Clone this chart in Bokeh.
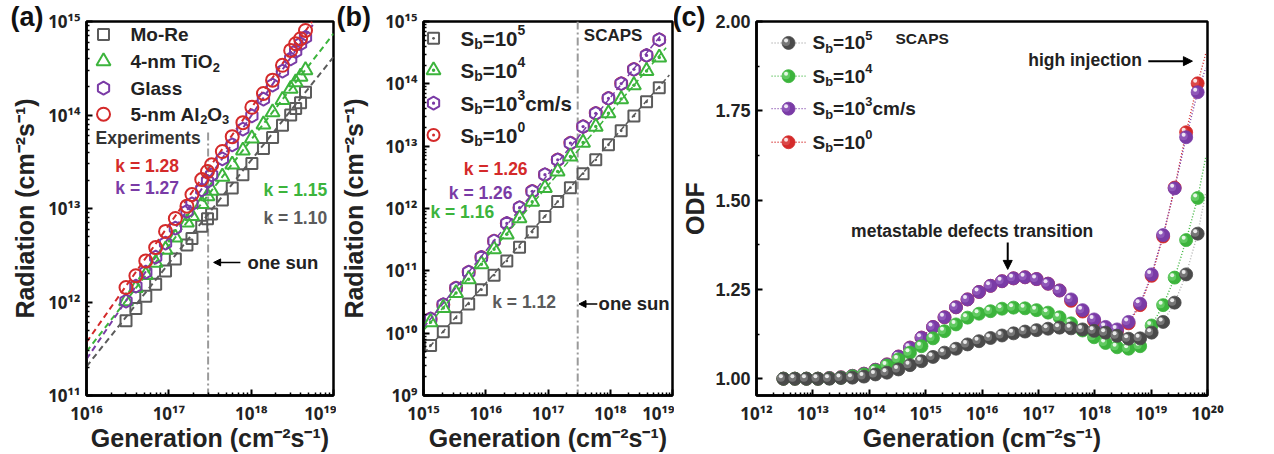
import math
from bokeh.plotting import figure
from bokeh.models import Label, Arrow, NormalHead, FixedTicker, CustomJSTickFormatter, PrintfTickFormatter, Range1d, Title
from bokeh.layouts import row
from bokeh.embed import file_html
from bokeh.resources import INLINE

FONT = "Liberation Sans"
TICKFONT = "Noto Sans"
GRAY, GREEN, PURPLE, RED = "#5b5b5b", "#3cb43c", "#7a3ba6", "#d42a2a"
TXT = "#222222"

# ---------------- panel (a): experiments ----------------
gen_a = [3.02e16, 3.98e16, 5.25e16, 6.92e16, 9.12e16, 1.20e17, 1.66e17, 1.91e17, 2.51e17, 2.95e17, 3.31e17,
         4.47e17, 5.89e17, 7.94e17, 1.02e18, 1.41e18, 1.82e18, 2.40e18, 3.02e18, 3.47e18, 3.98e18, 4.57e18]
rad_more = [6.31e11, 8.51e11, 1.15e12, 1.55e12, 2.14e12, 2.88e12, 4.07e12, 4.79e12, 6.46e12, 7.76e12, 8.71e12,
            1.23e13, 1.66e13, 2.29e13, 3.02e13, 4.37e13, 5.75e13, 7.76e13, 1.00e14, 1.17e14, 1.35e14, 1.75e14]
rad_tio2 = [1.02e12, 1.41e12, 1.95e12, 2.63e12, 3.63e12, 4.90e12, 7.08e12, 8.32e12, 1.12e13, 1.35e13, 1.55e13,
            2.19e13, 2.95e13, 4.17e13, 5.62e13, 7.94e13, 1.07e14, 1.45e14, 1.91e14, 2.24e14, 2.57e14, 3.02e14]
rad_glass = [1.02e12, 1.48e12, 2.09e12, 3.02e12, 4.27e12, 6.17e12, 9.33e12, 1.12e13, 1.58e13, 1.95e13, 2.29e13,
             3.39e13, 4.79e13, 7.08e13, 9.77e13, 1.48e14, 2.09e14, 2.95e14, 3.98e14, 4.79e14, 5.75e14, 6.76e14]
rad_al2o3 = [1.43e12, 1.91e12, 2.75e12, 3.82e12, 5.69e12, 7.83e12, 1.06e13, 1.41e13, 2.04e13, 2.49e13, 2.94e13,
             4.07e13, 5.87e13, 8.28e13, 1.21e14, 1.70e14, 2.36e14, 3.40e14, 4.91e14, 5.79e14, 6.55e14, 8.02e14]
fit_a_x = {"more": [1e16, 1e19], "tio2": [1e16, 1e19], "glass": [1e16, 5.6e18], "al2o3": [1e16, 5.5e18]}
fit_a_y = {"more": [2.04e11, 4.17e14], "tio2": [2.95e11, 7.4e14], "glass": [2.45e11, 9.2e14], "al2o3": [3.72e11, 1.0e15]}
one_sun = 3.0e17

# ---------------- panel (b): SCAPS ----------------
gen_b = [1.30e15, 2.08e15, 3.33e15, 5.32e15, 8.52e15, 1.36e16, 2.18e16, 3.49e16, 5.58e16, 8.93e16,
         1.43e17, 2.29e17, 3.66e17, 5.85e17, 9.36e17, 1.50e18, 2.40e18, 3.83e18, 6.13e18]
rad_b5 = [6.35e9, 1.05e10, 1.76e10, 2.94e10, 4.98e10, 8.53e10, 1.44e11, 2.39e11, 4.19e11, 7.45e11,
          1.29e12, 2.16e12, 3.62e12, 6.05e12, 1.05e13, 1.76e13, 3.05e13, 5.15e13, 8.63e13]
rad_b4 = [1.50e10, 2.54e10, 4.41e10, 7.36e10, 1.28e11, 2.22e11, 3.85e11, 7.00e11, 1.28e12, 2.14e12,
          3.94e12, 6.84e12, 1.14e13, 2.06e13, 3.37e13, 5.69e13, 9.53e13, 1.61e14, 2.64e14]
rad_b3 = [1.69e10, 2.86e10, 5.30e10, 9.53e10, 1.65e11, 3.01e11, 5.77e11, 1.03e12, 1.89e12, 3.49e12,
          6.05e12, 1.12e13, 2.06e13, 3.37e13, 5.85e13, 1.01e14, 1.71e14, 2.86e14, 5.11e14]
rad_b0 = [1.69e10, 2.86e10, 5.30e10, 9.53e10, 1.65e11, 3.01e11, 5.77e11, 1.03e12, 1.89e12, 3.49e12,
          6.05e12, 1.12e13, 2.06e13, 3.37e13, 5.85e13, 1.01e14, 1.71e14, 2.86e14, 5.11e14]
fit_b_x = {"b5": [1e15, 8.9e18], "b4": [1e15, 7.9e18], "b3": [1e15, 6.3e18]}
fit_b_y = {"b5": [4.68e9, 1.38e14], "b4": [1.10e10, 3.8e14], "b3": [1.23e10, 5.75e14]}

# ---------------- panel (c): ODF ----------------
gen_c = [3.0e12, 4.8e12, 7.68e12, 1.229e13, 1.966e13, 3.146e13, 5.033e13, 8.053e13, 1.288e14, 2.062e14,
         3.299e14, 5.278e14, 8.445e14, 1.351e15, 2.162e15, 3.459e15, 5.534e15, 8.855e15, 1.417e16, 2.267e16,
         3.627e16, 5.803e16, 9.284e16, 1.486e17, 2.377e17, 3.803e17, 6.085e17, 9.736e17, 1.558e18, 2.493e18,
         3.988e18, 6.381e18, 1.021e19, 1.634e19, 2.614e19, 4.182e19, 6.691e19]
odf_b5 = [1.000, 1.000, 1.000, 1.000, 1.000, 1.002, 1.003, 1.006, 1.012, 1.017, 1.026, 1.038, 1.049, 1.061,
          1.073, 1.084, 1.096, 1.105, 1.114, 1.121, 1.127, 1.132, 1.136, 1.140, 1.143, 1.141, 1.138, 1.134,
          1.129, 1.120, 1.112, 1.113, 1.129, 1.159, 1.213, 1.292, 1.406]
odf_b4 = [1.000, 1.000, 1.000, 1.000, 1.001, 1.003, 1.007, 1.012, 1.023, 1.037, 1.054, 1.073, 1.091, 1.113,
          1.133, 1.152, 1.171, 1.182, 1.189, 1.196, 1.199, 1.197, 1.192, 1.185, 1.172, 1.155, 1.135, 1.116,
          1.100, 1.088, 1.084, 1.091, 1.149, 1.206, 1.283, 1.388, 1.506]
odf_b3 = [1.000, 1.000, 1.000, 1.000, 1.002, 1.004, 1.008, 1.014, 1.025, 1.040, 1.062, 1.087, 1.115, 1.145,
          1.172, 1.200, 1.222, 1.243, 1.260, 1.273, 1.281, 1.284, 1.279, 1.266, 1.247, 1.222, 1.192, 1.166,
          1.145, 1.138, 1.159, 1.210, 1.292, 1.402, 1.533, 1.676, 1.802]
odf_b0 = [1.000, 1.000, 1.000, 1.000, 1.002, 1.004, 1.008, 1.014, 1.025, 1.040, 1.062, 1.087, 1.115, 1.145,
          1.172, 1.200, 1.222, 1.243, 1.260, 1.273, 1.281, 1.284, 1.279, 1.266, 1.247, 1.218, 1.188, 1.162,
          1.141, 1.134, 1.155, 1.206, 1.288, 1.398, 1.535, 1.690, 1.827]
line_end_x = 9.3e19
line_end_c = {"b5": 1.52, "b4": 1.62, "b3": 1.87, "b0": 1.91}

# ---------------- helpers ----------------
WID = {' ': .278, '-': .333, '/': .278, '=': .584, '.': .278, 'A': .722, 'O': .778, 'S': .667, 'T': .611,
       'b': .611, 'c': .556, 'l': .278, 'm': .889, 'n': .611, 'i': .278, 's': .556, 'k': .556}
SMALL = 0.68


def tw(s, fs):
    return sum(WID.get(ch, .556) for ch in s) * fs


def lab(p, x, y, text, fs, color=TXT, align="left", baseline="middle"):
    p.add_layout(Label(x=x, y=y, text=text, text_font=FONT, text_font_style="bold",
                       text_font_size=f"{fs}px", text_color=color, text_align=align,
                       text_baseline=baseline))


def rich(p, x, y, pieces, fs, color=TXT):
    off = 0.0
    for txt, kind in pieces:
        size = fs if kind == "n" else fs * SMALL
        dy = 0.0 if kind == "n" else (0.40 * fs if kind == "sup" else -0.30 * fs)
        p.add_layout(Label(x=x, y=y, x_offset=off, y_offset=dy, text=txt, text_font=FONT,
                           text_font_style="bold", text_font_size=f"{size:.1f}px", text_color=color,
                           text_baseline="middle", text_align="left"))
        off += tw(txt, size)


def letter(p, text, offset):
    p.add_layout(Title(text=text, align="left", offset=offset, vertical_align="top", standoff=-24,
                       text_font=FONT, text_font_style="bold", text_font_size="27px",
                       text_color="#111111"), "above")


POW = CustomJSTickFormatter(code="""
const s = {"0":"\u2070","1":"\u00b9","2":"\u00b2","3":"\u00b3","4":"\u2074","5":"\u2075","6":"\u2076","7":"\u2077","8":"\u2078","9":"\u2079","-":"\u207b"};
const e = Math.round(Math.log10(tick));
return "10" + String(e).split("").map(c => s[c]).join("");
""")


def decades(a, b):
    return [10.0 ** k for k in range(a, b + 1)]


def minors(a, b):
    return [m * 10.0 ** k for k in range(a, b) for m in range(2, 10)]


def make_fig(width, xr, yr, ytype, bl, br, ylabel, ystand):
    p = figure(width=width, height=454, x_range=Range1d(*xr), y_range=Range1d(*yr),
               x_axis_type="log", y_axis_type=ytype, output_backend="svg", toolbar_location=None,
               min_border_left=bl, min_border_right=br, min_border_top=21, min_border_bottom=57,
               title=None)
    p.grid.visible = False
    p.outline_line_color = "black"
    p.outline_line_width = 2.5
    p.background_fill_color = "white"
    p.border_fill_color = "white"
    for ax in (p.xaxis[0], p.yaxis[0]):
        ax.axis_line_width = 2.5
        ax.major_tick_in = 6
        ax.major_tick_out = 0
        ax.minor_tick_in = 3
        ax.minor_tick_out = 0
        ax.major_tick_line_width = 2
        ax.minor_tick_line_width = 1.5
        ax.major_label_text_font = TICKFONT
        ax.major_label_text_font_style = "bold"
        ax.major_label_text_font_size = "17px"
        ax.major_label_text_color = TXT
        ax.major_label_standoff = 6
        ax.axis_label_text_font = FONT
        ax.axis_label_text_font_style = "bold"
        ax.axis_label_text_font_size = "25px"
        ax.axis_label_text_color = TXT
    p.xaxis.axis_label = "Generation (cm\u207b\u00b2s\u207b\u00b9)"
    p.xaxis.axis_label_standoff = -4
    p.yaxis.axis_label = ylabel
    p.yaxis.axis_label_standoff = ystand
    return p


RAD = "Radiation (cm\u207b\u00b2s\u207b\u00b9)"

# ================= figure (a) =================
pa = make_fig(336, (1e16, 1e19), (1e11, 1e15), "log", 86, 3, RAD, 6)
pa.xaxis.ticker = FixedTicker(ticks=decades(16, 19), minor_ticks=minors(16, 19))
pa.yaxis.ticker = FixedTicker(ticks=decades(11, 15), minor_ticks=minors(11, 15))
pa.xaxis.formatter = POW
pa.yaxis.formatter = POW
letter(pa, "(a)", -76)

pa.segment(x0=[one_sun], y0=[6.5e13], x1=[one_sun], y1=[1e11], line_color="#9a9a9a", line_width=2,
           line_dash="8 3 2 3")
for key, col in (("more", GRAY), ("tio2", GREEN), ("glass", PURPLE), ("al2o3", RED)):
    pa.line(fit_a_x[key], fit_a_y[key], line_color=col, line_width=2, line_dash="6 4")
pa.scatter(gen_a, rad_more, marker="square", size=11, line_color=GRAY, line_width=2, fill_color=None)
pa.scatter(gen_a, rad_tio2, marker="triangle", size=14, line_color=GREEN, line_width=2, fill_color=None)
pa.scatter(gen_a, rad_glass, marker="hex", size=13, angle=math.pi / 2, line_color=PURPLE, line_width=2, fill_color=None)
pa.scatter(gen_a, rad_al2o3, marker="circle", size=13, line_color=RED, line_width=2, fill_color=None)

leg_ay = [7.28e14, 3.75e14, 1.94e14, 1.02e14]
leg_ax, leg_tx = 1.61e16, 3.42e16
pa.scatter([leg_ax], [leg_ay[0]], marker="square", size=11, line_color=GRAY, line_width=2, fill_color=None)
pa.scatter([leg_ax], [leg_ay[1]], marker="triangle", size=14, line_color=GREEN, line_width=2, fill_color=None)
pa.scatter([leg_ax], [leg_ay[2]], marker="hex", size=13, angle=math.pi / 2, line_color=PURPLE, line_width=2, fill_color=None)
pa.scatter([leg_ax], [leg_ay[3]], marker="circle", size=13, line_color=RED, line_width=2, fill_color=None)
rich(pa, leg_tx, leg_ay[0], [("Mo-Re", "n")], 19)
rich(pa, leg_tx, leg_ay[1], [("4-nm TiO", "n"), ("2", "sub")], 19)
rich(pa, leg_tx, leg_ay[2], [("Glass", "n")], 19)
rich(pa, leg_tx, leg_ay[3], [("5-nm Al", "n"), ("2", "sub"), ("O", "n"), ("3", "sub")], 19)

lab(pa, 1.29e16, 5.69e13, "Experiments", 17.5, "#333333")
lab(pa, 2.24e16, 2.86e13, "k = 1.28", 17.5, RED)
lab(pa, 2.24e16, 1.67e13, "k = 1.27", 17.5, PURPLE)
lab(pa, 1.41e18, 1.58e13, "k = 1.15", 17.5, GREEN)
lab(pa, 1.41e18, 7.94e12, "k = 1.10", 17.5, GRAY)
pa.add_layout(Arrow(end=NormalHead(size=7, fill_color="black", line_color="black"),
                    x_start=7.4e17, y_start=2.65e12, x_end=3.5e17, y_end=2.65e12, line_width=1.5))
lab(pa, 9.0e17, 2.65e12, "one sun", 18.5)

# ================= figure (b) =================
pb = make_fig(338, (1e15, 1e19), (1e9, 1e15), "log", 87, 2, RAD, 14)
pb.xaxis.ticker = FixedTicker(ticks=decades(15, 19), minor_ticks=minors(15, 19))
pb.yaxis.ticker = FixedTicker(ticks=decades(9, 15), minor_ticks=minors(9, 15))
pb.xaxis.formatter = POW
pb.yaxis.formatter = POW
letter(pb, "(b)", -87)

pb.segment(x0=[one_sun], y0=[1e15], x1=[one_sun], y1=[1e9], line_color="#9a9a9a", line_width=2,
           line_dash="8 3 2 3")
pb.scatter(gen_b, rad_b5, marker="square_dot", size=11, line_color=GRAY, line_width=2, fill_color="white")
pb.scatter(gen_b, rad_b0, marker="circle_dot", size=12, line_color=RED, line_width=2, fill_color="white")
pb.scatter(gen_b, rad_b3, marker="hex_dot", size=13, angle=math.pi / 2, line_color=PURPLE, line_width=2, fill_color="white")
pb.scatter(gen_b, rad_b4, marker="triangle_dot", size=14, line_color=GREEN, line_width=2, fill_color="white")
for key, col in (("b5", GRAY), ("b4", GREEN), ("b3", PURPLE)):
    pb.line(fit_b_x[key], fit_b_y[key], line_color=col, line_width=1.5, line_dash="6 3")

leg_by = [5.37e14, 1.65e14, 4.9e13, 1.51e13]
leg_bx, leg_btx = 1.45e15, 3.93e15
pb.scatter([leg_bx], [leg_by[0]], marker="square_dot", size=11, line_color=GRAY, line_width=2, fill_color="white")
pb.scatter([leg_bx], [leg_by[1]], marker="triangle_dot", size=14, line_color=GREEN, line_width=2, fill_color="white")
pb.scatter([leg_bx], [leg_by[2]], marker="hex_dot", size=13, angle=math.pi / 2, line_color=PURPLE, line_width=2, fill_color="white")
pb.scatter([leg_bx], [leg_by[3]], marker="circle_dot", size=12, line_color=RED, line_width=2, fill_color="white")
rich(pb, leg_btx, leg_by[0], [("S", "n"), ("b", "sub"), ("=10", "n"), ("5", "sup")], 20.5)
rich(pb, leg_btx, leg_by[1], [("S", "n"), ("b", "sub"), ("=10", "n"), ("4", "sup")], 20.5)
rich(pb, leg_btx, leg_by[2], [("S", "n"), ("b", "sub"), ("=10", "n"), ("3", "sup"), ("cm/s", "n")], 20.5)
rich(pb, leg_btx, leg_by[3], [("S", "n"), ("b", "sub"), ("=10", "n"), ("0", "sup")], 20.5)

lab(pb, 3.76e17, 5.98e14, "SCAPS", 17)
lab(pb, 4.45e15, 4.35e12, "k = 1.26", 17.5, RED)
lab(pb, 2.55e15, 1.80e12, "k = 1.26", 17.5, PURPLE)
lab(pb, 1.29e15, 8.63e11, "k = 1.16", 17.5, GREEN)
lab(pb, 1.27e16, 3.16e10, "k = 1.12", 17.5, GRAY)
pb.add_layout(Arrow(end=NormalHead(size=7, fill_color="black", line_color="black"),
                    x_start=6.2e17, y_start=2.94e10, x_end=3.15e17, y_end=2.94e10, line_width=1.5))
lab(pb, 6.5e17, 2.94e10, "one sun", 18.5)

# ================= figure (c) =================
pc = make_fig(600, (1e12, 1e20), (0.953, 2.0), "linear", 82, 67, "ODF", 3)
pc.xaxis.ticker = FixedTicker(ticks=decades(12, 20), minor_ticks=minors(12, 20))
pc.yaxis.ticker = FixedTicker(ticks=[1.0, 1.25, 1.5, 1.75, 2.0], minor_ticks=[1.125, 1.375, 1.625, 1.875])
pc.xaxis.formatter = POW
pc.yaxis.formatter = PrintfTickFormatter(format="%.2f")
pc.yaxis.major_label_text_font = FONT
pc.yaxis.major_label_text_font_size = "18px"
letter(pc, "(c)", -84)

series_c = [("b0", odf_b0, RED, "#e06060", RED), ("b3", odf_b3, PURPLE, "#a070c8", PURPLE),
            ("b4", odf_b4, GREEN, "#80dd80", GREEN), ("b5", odf_b5, "#4a4a4a", "#9a9a9a", "#b0b0b0")]
HX = 10 ** (-2.5 / 56.4)
HY = 2.5 / 359.0
for key, vals, col, light, lcol in series_c:
    pc.line(gen_c + [line_end_x], vals + [line_end_c[key]], line_color=lcol, line_width=1.4, line_dash="1 2")


def balls(p, xs, ys, col, light):
    p.scatter(xs, ys, marker="circle", size=13, fill_color=col, line_color=col, line_width=0.8)
    p.scatter([x * HX for x in xs], [y + HY * 0.4 for y in ys], marker="circle", size=8,
              fill_color=light, line_color=None, fill_alpha=0.55)
    p.scatter([x * HX for x in xs], [y + HY for y in ys], marker="circle", size=4,
              fill_color="white", line_color=None, fill_alpha=0.85)


for key, vals, col, light, lcol in series_c:
    balls(pc, gen_c, vals, col, light)

leg_cy = [1.940, 1.847, 1.756, 1.662]
leg_cols = [("#4a4a4a", "#9a9a9a", "#b0b0b0"), (GREEN, "#80dd80", GREEN), (PURPLE, "#a070c8", PURPLE), (RED, "#e06060", RED)]
for yy, (col, light, lcol) in zip(leg_cy, leg_cols):
    pc.line([1.85e12, 7.4e12], [yy, yy], line_color=lcol, line_width=1.4, line_dash="1 2")
    balls(pc, [3.7e12], [yy], col, light)
leg_ctx = 9.85e12
rich(pc, leg_ctx, leg_cy[0], [("S", "n"), ("b", "sub"), ("=10", "n"), ("5", "sup")], 19)
rich(pc, leg_ctx, leg_cy[1], [("S", "n"), ("b", "sub"), ("=10", "n"), ("4", "sup")], 19)
rich(pc, leg_ctx, leg_cy[2], [("S", "n"), ("b", "sub"), ("=10", "n"), ("3", "sup"), (" cm/s", "n")], 19)
rich(pc, leg_ctx, leg_cy[3], [("S", "n"), ("b", "sub"), ("=10", "n"), ("0", "sup")], 19)
lab(pc, 2.92e14, 1.952, "SCAPS", 15.5)
lab(pc, 6.6e16, 1.892, "high injection", 17.5)
pc.add_layout(Arrow(end=NormalHead(size=9, fill_color="black", line_color="black"),
                    x_start=8.9e18, y_start=1.889, x_end=5.4e19, y_end=1.889, line_width=2))
lab(pc, 6.7e15, 1.413, "metastable defects transition", 17.5, align="center")
pc.add_layout(Arrow(end=NormalHead(size=9, fill_color="black", line_color="black"),
                    x_start=2.86e16, y_start=1.381, x_end=2.86e16, y_end=1.306, line_width=2))

layout = row(pa, pb, pc)
open("out.html", "w", encoding="utf-8").write(file_html(layout, INLINE))
